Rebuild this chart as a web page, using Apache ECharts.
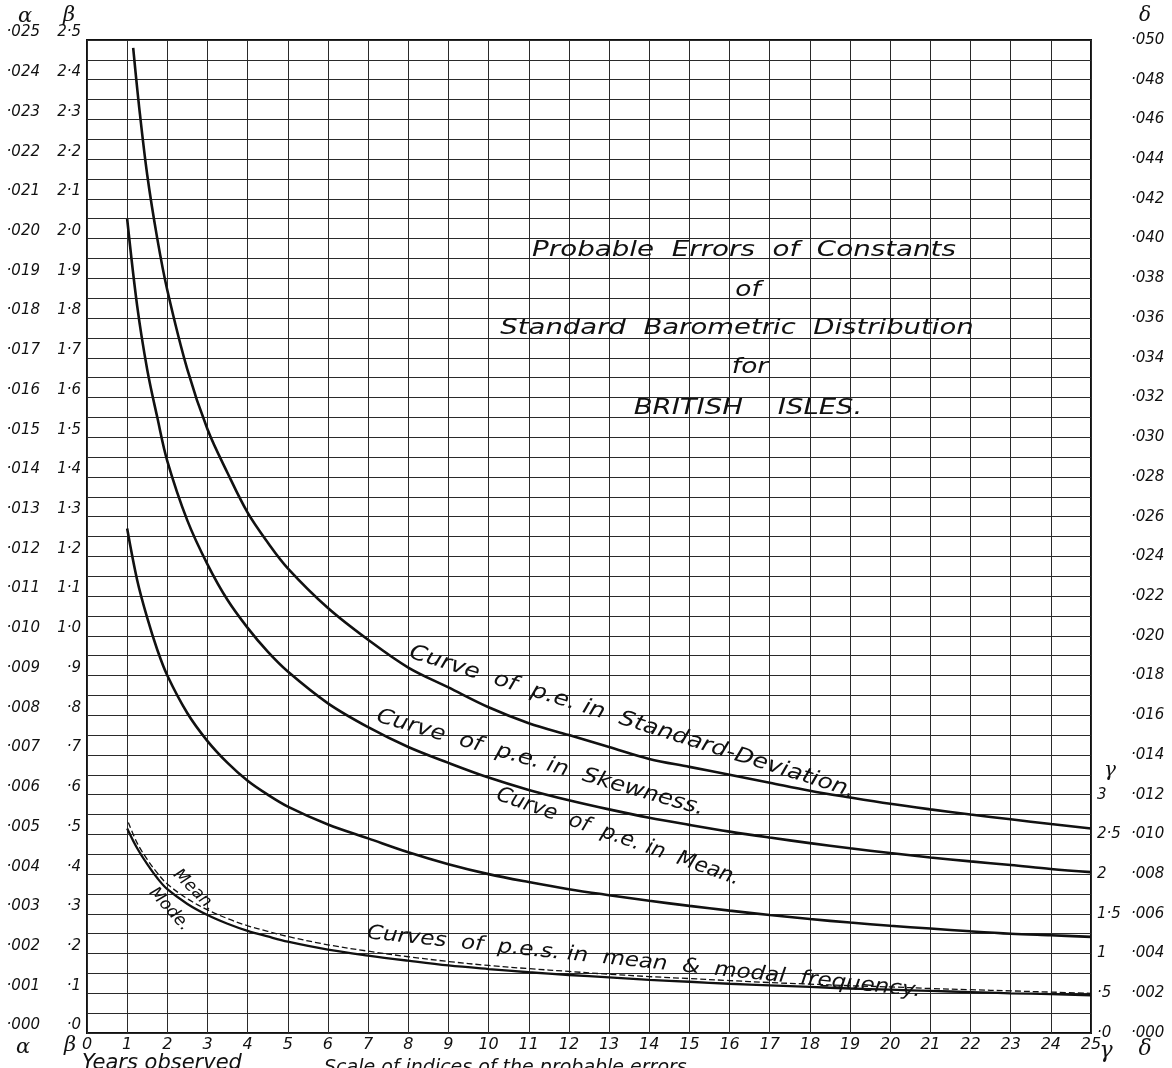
<!DOCTYPE html>
<html>
<head>
<meta charset="utf-8">
<script src="https://cdn.jsdelivr.net/npm/echarts@6/dist/echarts.min.js"></script>
<style>
html,body{margin:0;padding:0;background:#fff;}
#chart{width:1172px;height:1068px;}
</style>
</head>
<body>
<div id="chart"></div>
<script>
// ---- tick labels ----
const xTickLabels = ['0','1','2','3','4','5','6','7','8','9','10','11','12','13','14','15','16','17','18','19','20','21','22','23','24','25'];
const alphaLabels = ['·000','·001','·002','·003','·004','·005','·006','·007','·008','·009','·010','·011','·012','·013','·014','·015','·016','·017','·018','·019','·020','·021','·022','·023','·024','·025'];
const betaLabels = ['·0','·1','·2','·3','·4','·5','·6','·7','·8','·9','1·0','1·1','1·2','1·3','1·4','1·5','1·6','1·7','1·8','1·9','2·0','2·1','2·2','2·3','2·4','2·5'];
const gammaLabels = ['·0','·5','1','1·5','2','2·5','3'];
const deltaLabels = ['·000','·002','·004','·006','·008','·010','·012','·014','·016','·018','·020','·022','·024','·026','·028','·030','·032','·034','·036','·038','·040','·042','·044','·046','·048','·050'];

// ---- series (values on the beta scale) ----
const sdYears = [1.15,1.3,1.5,1.75,2,2.5,3,3.5,4,4.5,5,6,7,8,9,10,11,12,13,14,15,16,17,18,19,20,21,22,23,24,25];
const sdValues = [2.48,2.33,2.16,2.00,1.87,1.67,1.52,1.41,1.31,1.235,1.17,1.07,0.99,0.92,0.87,0.82,0.78,0.75,0.72,0.69,0.67,0.65,0.63,0.61,0.593,0.577,0.563,0.55,0.538,0.526,0.515];

const skYears = [1,1.25,1.5,1.75,2,2.5,3,3.5,4,4.5,5,6,7,8,9,10,11,12,13,14,15,16,17,18,19,20,21,22,23,24,25];
const skValues = [2.05,1.83,1.67,1.55,1.44,1.29,1.18,1.09,1.02,0.96,0.91,0.83,0.77,0.72,0.68,0.643,0.612,0.586,0.563,0.542,0.524,0.507,0.492,0.478,0.465,0.453,0.442,0.432,0.423,0.413,0.405];

const meanYears = [1,1.25,1.5,1.75,2,2.5,3,3.5,4,4.5,5,6,7,8,9,10,11,12,13,14,15,16,17,18,19,20,21,22,23,24,25];
const meanValues = [1.27,1.14,1.045,0.965,0.90,0.805,0.735,0.68,0.635,0.60,0.57,0.525,0.49,0.455,0.425,0.40,0.38,0.362,0.347,0.333,0.32,0.308,0.297,0.287,0.278,0.27,0.263,0.256,0.25,0.246,0.242];

const modeYears = [1,1.25,1.5,1.75,2,2.5,3,3.5,4,4.5,5,6,7,8,9,10,11,12,13,14,15,16,17,18,19,20,21,22,23,24,25];
const modeValues = [0.515,0.465,0.425,0.39,0.362,0.325,0.297,0.275,0.257,0.243,0.23,0.21,0.195,0.182,0.17,0.161,0.153,0.146,0.14,0.134,0.129,0.124,0.12,0.116,0.112,0.109,0.106,0.103,0.1,0.098,0.095];

const meanFreqYears = [1.03,1.25,1.5,1.75,2,2.5,3,3.5,4,4.5,5,6,7,8,9,10,11,12,13,14,15,16,17,18,19,20,21,22,23,24,25];
const meanFreqValues = [0.53,0.478,0.437,0.403,0.375,0.338,0.31,0.288,0.27,0.256,0.243,0.222,0.206,0.192,0.18,0.17,0.162,0.155,0.148,0.142,0.137,0.132,0.127,0.123,0.119,0.116,0.112,0.109,0.106,0.103,0.1];

const pairs = (xs, ys) => xs.map((x, i) => [x, ys[i]]);
const idx = v => Math.round(v * 10);

const FONT = 'DejaVu Sans';
const INK = '#111';
const GRIDC = '#2a2a2a';
const labelStyle = {fontFamily: FONT, fontStyle: 'italic', fontSize: 15, color: INK};

function txt(x, y, text, size, rotDeg, align, family, sx) {
  return {
    type: 'text', x: x, y: y, rotation: (rotDeg || 0) * Math.PI / 180,
    scaleX: sx || 1,
    silent: true, z: 100,
    style: {
      text: text, fill: INK, font: 'italic ' + size + 'px "' + (family || FONT) + '"',
      textAlign: align || 'left', textVerticalAlign: 'middle'
    }
  };
}

const chart = echarts.init(document.getElementById('chart'), null, {renderer: 'canvas'});

const lineBase = {type: 'line', symbol: 'none', smooth: 0.35, xAxisIndex: 0, yAxisIndex: 0, silent: true, z: 10};

chart.setOption({
  animation: false,
  backgroundColor: '#fff',
  grid: {left: 87, right: 81, top: 40, bottom: 35, show: true, borderColor: INK, borderWidth: 2, backgroundColor: 'transparent'},
  xAxis: {
    type: 'value', min: 0, max: 25, interval: 1,
    axisLine: {show: false}, axisTick: {show: false},
    splitLine: {show: true, lineStyle: {color: GRIDC, width: 1}},
    axisLabel: Object.assign({}, labelStyle, {fontSize: 16, margin: 4, formatter: v => xTickLabels[Math.round(v)] || ''})
  },
  yAxis: [
    {
      type: 'value', min: 0, max: 2.5, interval: 0.1, position: 'left',
      axisLine: {show: false}, axisTick: {show: false},
      splitLine: {show: true, lineStyle: {color: GRIDC, width: 1}},
      minorTick: {show: false, splitNumber: 2},
      minorSplitLine: {show: true, lineStyle: {color: GRIDC, width: 1}},
      axisLabel: Object.assign({}, labelStyle, {margin: 6, verticalAlign: 'bottom', formatter: v => betaLabels[idx(v)] || ''})
    },
    {
      type: 'value', min: 0, max: 2.5, interval: 0.1, position: 'left',
      axisLine: {show: false}, axisTick: {show: false}, splitLine: {show: false},
      axisLabel: Object.assign({}, labelStyle, {margin: 47, verticalAlign: 'bottom', formatter: v => alphaLabels[idx(v)] || ''})
    },
    {
      type: 'value', min: 0, max: 2.5, interval: 0.1, position: 'right',
      axisLine: {show: false}, axisTick: {show: false}, splitLine: {show: false},
      axisLabel: Object.assign({}, labelStyle, {margin: 6, formatter: v => gammaLabels[idx(v)] || ''})
    },
    {
      type: 'value', min: 0, max: 2.5, interval: 0.1, position: 'right',
      axisLine: {show: false}, axisTick: {show: false}, splitLine: {show: false},
      axisLabel: Object.assign({}, labelStyle, {margin: 40, formatter: v => deltaLabels[idx(v)] || ''})
    }
  ],
  series: [
    Object.assign({}, lineBase, {name: 'p.e. in Standard-Deviation', data: pairs(sdYears, sdValues), lineStyle: {color: INK, width: 2.6}}),
    Object.assign({}, lineBase, {name: 'p.e. in Skewness', data: pairs(skYears, skValues), lineStyle: {color: INK, width: 2.6}}),
    Object.assign({}, lineBase, {name: 'p.e. in Mean', data: pairs(meanYears, meanValues), lineStyle: {color: INK, width: 2.6}}),
    Object.assign({}, lineBase, {name: 'p.e. in modal frequency', data: pairs(modeYears, modeValues), lineStyle: {color: INK, width: 2.3}}),
    Object.assign({}, lineBase, {name: 'p.e. in mean frequency', data: pairs(meanFreqYears, meanFreqValues), lineStyle: {color: INK, width: 1.3, type: [6, 3]}})
  ],
  graphic: [
    // axis symbols
    txt(25, 17, 'α', 21, 0, 'center', 'DejaVu Serif'),
    txt(69, 16, 'β', 21, 0, 'center', 'DejaVu Serif'),
    txt(23, 1048, 'α', 21, 0, 'center', 'DejaVu Serif'),
    txt(70, 1046, 'β', 21, 0, 'center', 'DejaVu Serif'),
    txt(1106, 1051, 'γ', 22, 0, 'center', 'DejaVu Serif'),
    txt(1145, 1049, 'δ', 22, 0, 'center', 'DejaVu Serif'),
    txt(1145, 16, 'δ', 20, 0, 'center', 'DejaVu Serif'),
    txt(1110, 771, 'γ', 20, 0, 'center', 'DejaVu Serif'),
    // bottom captions (cut by the page edge)
    txt(82, 1064, 'Years observed', 21, 0, 'left'),
    txt(324, 1068, 'Scale of indices of the probable errors', 19, 0, 'left'),
    // title block
    txt(744, 250, 'Probable  Errors  of  Constants', 22, 0, 'center', FONT, 1.26),
    txt(748, 290, 'of', 22, 0, 'center', FONT, 1.2),
    txt(737, 328, 'Standard  Barometric  Distribution', 22, 0, 'center', FONT, 1.25),
    txt(750, 367, 'for', 22, 0, 'center', FONT, 1.2),
    txt(748, 408, 'BRITISH    ISLES.', 22, 0, 'center', FONT, 1.25),
    // curve labels
    txt(410, 652, 'Curve  of  p.e. in  Standard-Deviation.', 21, -17.5, 'left', FONT, 1.17),
    txt(377, 716, 'Curve  of  p.e. in  Skewness.', 21, -16, 'left', FONT, 1.14),
    txt(497, 794, 'Curve  of  p.e. in  Mean.', 21, -19.5, 'left', FONT, 1.02),
    txt(367, 933, 'Curves  of  p.e.s. in  mean  &  modal  frequency.', 20, -6, 'left', FONT, 1.15),
    txt(176, 872, 'Mean.', 17, -45, 'left'),
    txt(152, 890, 'Mode.', 17, -48, 'left')
  ]
});
</script>
</body>
</html>
